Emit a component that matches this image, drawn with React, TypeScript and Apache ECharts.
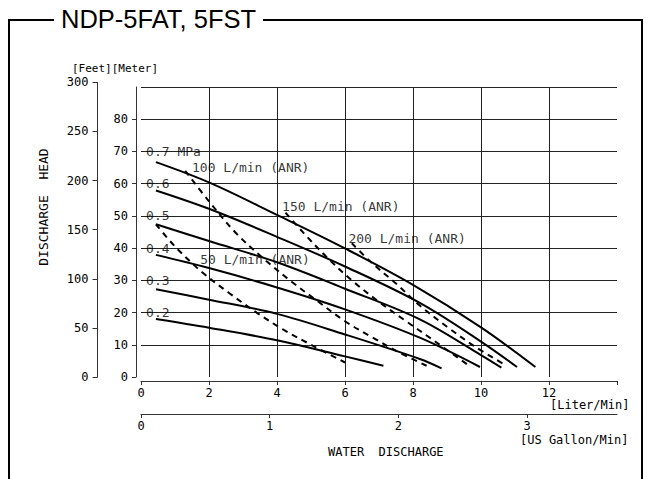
import React, { useEffect, useRef } from "react";
import * as echarts from "echarts";

// ---- data (flow in L/min, head in m) ----
const p07Flow = [0.44, 2, 4, 6, 8, 10, 11.6];
const p07Head = [66.7, 60.4, 50.3, 39.9, 28.6, 15.4, 3.1];
const p06Flow = [0.44, 2, 4, 6, 8.2, 10, 11.06];
const p06Head = [57.9, 52.2, 43.5, 34.3, 23.0, 11.0, 3.1];
const p05Flow = [0.44, 2, 4, 6, 8.2, 10, 10.6];
const p05Head = [47.4, 42.2, 35.6, 27.4, 17.9, 6.8, 2.9];
const p04Flow = [0.44, 2, 4, 6, 8.2, 9.97];
const p04Head = [37.9, 33.8, 27.8, 21.0, 12.2, 3.1];
const p03Flow = [0.44, 2, 4, 6, 8.2, 8.84];
const p03Head = [27.2, 24.0, 19.6, 13.2, 5.6, 2.7];
const p02Flow = [0.44, 2, 4, 6, 7.13];
const p02Head = [18.0, 15.3, 11.4, 6.4, 3.5];

const air50Flow = [0.44, 1.0, 1.8, 2.6, 3.4, 4.2, 5.0, 6.0];
const air50Head = [47.4, 40.5, 32.5, 26.0, 20.0, 14.6, 10.0, 4.5];
const air100Flow = [1.3, 2.0, 2.8, 3.6, 4.4, 5.2, 6.0, 6.8, 7.6, 8.4];
const air100Head = [64.0, 54.5, 44.6, 36.8, 29.8, 23.5, 17.3, 12.3, 7.6, 3.5];
const air150Flow = [4.25, 4.8, 5.5, 6.2, 7.0, 7.8, 8.6, 9.65];
const air150Head = [51.0, 44.5, 36.8, 30.0, 23.3, 17.3, 11.4, 3.5];
const air200Flow = [6.2, 6.8, 7.5, 8.2, 9.0, 9.8, 10.7];
const air200Head = [41.5, 35.3, 29.0, 22.2, 15.6, 9.6, 3.8];

const pressureLabels = ["0.7 MPa", "0.6", "0.5", "0.4", "0.3", "0.2"];
const pressureLabelHead = [70, 60, 50, 40, 30, 20];
const pressureLabelFlow = [0.15, 0.15, 0.15, 0.15, 0.15, 0.15];
const airLabels = ["50 L/min (ANR)", "100 L/min (ANR)", "150 L/min (ANR)", "200 L/min (ANR)"];
const airLabelFlow = [1.74, 1.5, 4.15, 6.1];
const airLabelHead = [36.6, 65.0, 52.8, 42.9];

const meterTicks = [0, 10, 20, 30, 40, 50, 60, 70, 80];
const feetTicks = [0, 50, 100, 150, 200, 250, 300];
const literTicks = [0, 2, 4, 6, 8, 10, 12];
const literTickMarks = [0, 2, 4, 6, 8, 10, 12, 14];
const gallonTicks = [0, 1, 2, 3];

const LITERS_PER_GALLON = 3.78541;
const FEET_PER_METER = 1 / 0.3048;

const FONT = "'DejaVu Sans Mono', monospace";

const pairs = (xs: number[], ys: number[]) => xs.map((x, i) => [x, ys[i]]);

export default function App() {
  const ref = useRef<HTMLDivElement>(null);
  useEffect(() => {
    if (!ref.current) return;
    const chart = echarts.init(ref.current, null, { renderer: "svg" });

    const gridLeft = 141, gridTop = 87, gridW = 476, gridH = 290;
    const mMax = 90;
    const pxPerM = gridH / mMax;
    const feetMax = 300;
    const feetH = (feetMax / FEET_PER_METER) * pxPerM;

    const solid = (name: string, xs: number[], ys: number[]) => ({
      type: "line", name, data: pairs(xs, ys), xAxisIndex: 0, yAxisIndex: 0,
      smooth: 0.35, symbol: "none", lineStyle: { color: "#000", width: 2 },
      z: 5,
    });
    const dashed = (name: string, xs: number[], ys: number[]) => ({
      type: "line", name, data: pairs(xs, ys), xAxisIndex: 0, yAxisIndex: 0,
      smooth: 0.35, symbol: "none",
      lineStyle: { color: "#000", width: 2, type: [6, 5] },
      z: 5,
    });

    const labelData = [
      ...pressureLabels.map((t, i) => ({ name: t, value: [pressureLabelFlow[i], pressureLabelHead[i]] })),
      ...airLabels.map((t, i) => ({ name: t, value: [airLabelFlow[i], airLabelHead[i]] })),
    ];

    const axisLine = () => ({ show: true, onZero: false, lineStyle: { color: "#333", width: 1 } });
    const gridLineStyle = () => ({ color: "#222", width: 1 });
    const tickLabel = () => ({ color: "#000", fontFamily: FONT, fontSize: 12 });

    chart.setOption({
      animation: false,
      backgroundColor: "#fff",
      grid: [
        { left: gridLeft, top: gridTop, width: gridW, height: gridH },
        { left: gridLeft, top: gridTop + gridH - feetH, width: gridW, height: feetH },
      ],
      xAxis: [
        {
          type: "value", gridIndex: 0, min: 0, max: 14, interval: 2,
          position: "bottom", offset: 4,
          axisLine: axisLine(),
          axisTick: { show: true, length: 4, lineStyle: { color: "#333", width: 1 }, customValues: literTickMarks },
          axisLabel: { ...tickLabel(), margin: 6, customValues: literTicks },
          splitLine: { show: true, showMinLine: false, showMaxLine: false, lineStyle: gridLineStyle() },
        },
        {
          type: "value", gridIndex: 0, min: 0, max: 14 / LITERS_PER_GALLON,
          position: "bottom", offset: 37,
          axisLine: axisLine(),
          axisTick: { show: true, length: 4, lineStyle: { color: "#333", width: 1 }, customValues: gallonTicks },
          axisLabel: { ...tickLabel(), margin: 6, customValues: gallonTicks },
          splitLine: { show: false },
        },
        { type: "value", gridIndex: 1, min: 0, max: 14, show: false },
      ],
      yAxis: [
        {
          type: "value", gridIndex: 0, min: 0, max: mMax, interval: 10,
          axisLine: { show: false, onZero: false }, axisTick: { show: false }, axisLabel: { show: false },
          splitLine: { show: true, showMinLine: false, showMaxLine: true, lineStyle: gridLineStyle() },
        },
        {
          type: "value", gridIndex: 0, min: 0, max: mMax, interval: 10,
          position: "left", offset: 5,
          axisLine: axisLine(),
          axisTick: { show: true, length: 4, lineStyle: { color: "#333", width: 1 }, customValues: meterTicks },
          axisLabel: { ...tickLabel(), margin: 8, customValues: meterTicks },
          splitLine: { show: false },
        },
        {
          type: "value", gridIndex: 1, min: 0, max: feetMax, interval: 50,
          position: "left", offset: gridLeft - 97.5,
          axisLine: axisLine(),
          axisTick: { show: true, length: 5, lineStyle: { color: "#333", width: 1 }, customValues: feetTicks },
          axisLabel: { ...tickLabel(), margin: 9, customValues: feetTicks },
          splitLine: { show: false },
        },
      ],
      series: [
        solid("0.7", p07Flow, p07Head),
        solid("0.6", p06Flow, p06Head),
        solid("0.5", p05Flow, p05Head),
        solid("0.4", p04Flow, p04Head),
        solid("0.3", p03Flow, p03Head),
        solid("0.2", p02Flow, p02Head),
        dashed("50", air50Flow, air50Head),
        dashed("100", air100Flow, air100Head),
        dashed("150", air150Flow, air150Head),
        dashed("200", air200Flow, air200Head),
        {
          type: "scatter", xAxisIndex: 0, yAxisIndex: 0, symbolSize: 0,
          data: labelData, z: 6, silent: true,
          label: {
            show: true, position: "right", distance: 0, formatter: "{b}",
            color: "#000", fontFamily: FONT, fontSize: 13,
          },
        },
      ],
      graphic: [
        { type: "polyline", shape: { points: [[54, 20], [9, 20], [9, 490]] }, style: { stroke: "#000", lineWidth: 2, fill: null } },
        { type: "polyline", shape: { points: [[263, 20], [642, 20], [642, 490]] }, style: { stroke: "#000", lineWidth: 2, fill: null } },
        { type: "text", x: 61, y: 19, style: { text: "NDP-5FAT, 5FST", font: "25.5px 'Liberation Sans', Arial, sans-serif", fill: "#000", textVerticalAlign: "middle" } },
        { type: "text", x: 72, y: 68, style: { text: "[Feet][Meter]", font: `11px ${FONT}`, fill: "#000", textVerticalAlign: "middle" } },
        { type: "text", x: 43, y: 207, rotation: Math.PI / 2, style: { text: "DISCHARGE  HEAD", font: `13px ${FONT}`, fill: "#000", textAlign: "center", textVerticalAlign: "middle" } },
        { type: "text", x: 550, y: 405, style: { text: "[Liter/Min]", font: `12px ${FONT}`, fill: "#000", textVerticalAlign: "middle" } },
        { type: "text", x: 520, y: 440, style: { text: "[US Gallon/Min]", font: `12px ${FONT}`, fill: "#000", textVerticalAlign: "middle" } },
        { type: "text", x: 328, y: 452, style: { text: "WATER  DISCHARGE", font: `12px ${FONT}`, fill: "#000", textVerticalAlign: "middle" } },
      ],
    });
    return () => chart.dispose();
  }, []);
  return (
    <div
      ref={ref}
      style={{ position: "fixed", left: 0, top: 0, width: 651, height: 479, background: "#fff" }}
    />
  );
}
